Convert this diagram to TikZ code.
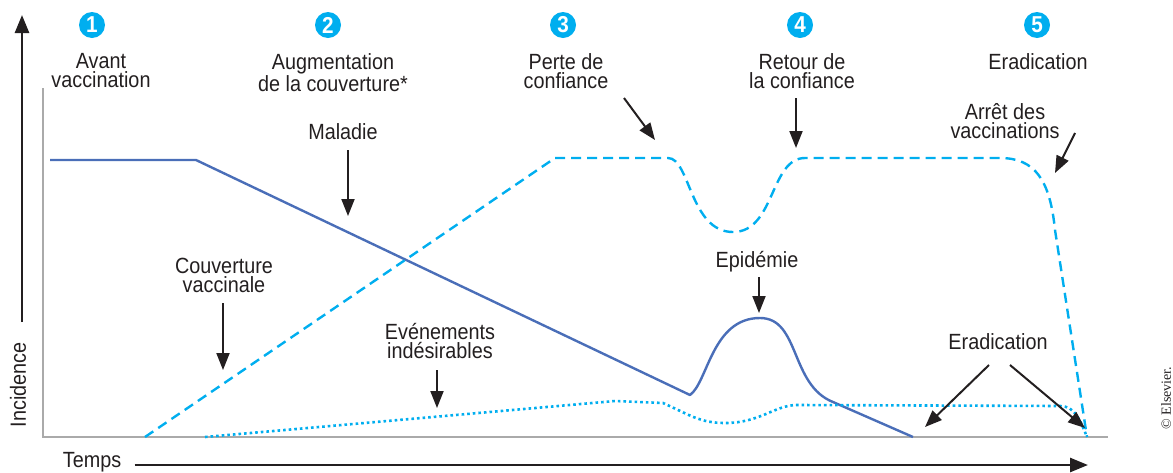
\documentclass[tikz,border=0pt]{standalone}
\usepackage{fontspec}
\setmainfont{Liberation Sans}[FakeStretch=0.9]
\newfontfamily\elsfont{Liberation Serif}
\usepackage{tikz}
\usetikzlibrary{arrows.meta}
\usetikzlibrary{positioning}
\definecolor{encre}{RGB}{35,31,32}
\definecolor{maladieblue}{RGB}{74,110,184}
\definecolor{vaccyan}{RGB}{0,174,239}
\definecolor{cadregrey}{RGB}{170,170,170}
\tikzset{
  lbl/.style={inner sep=0pt,align=center,text=encre,font=\fontsize{11}{9.6}\selectfont},
  num/.style={circle,fill=vaccyan,minimum size=13pt,inner sep=0pt,text=white,font=\fontsize{11.5}{11.5}\selectfont\bfseries},
  fleche/.style={draw=encre,line width=1pt,-{Triangle[length=8.5pt,width=6.5pt]}},
  axe/.style={draw=encre,line width=1.3pt,-{Triangle[length=9pt,width=7pt]}},
  maladie/.style={draw=maladieblue,line width=1.2pt,line join=round},
  couverture/.style={draw=vaccyan,line width=1.2pt,dash pattern=on 5pt off 3pt},
  effets/.style={draw=vaccyan,line width=1.3pt,dash pattern=on 1.3pt off 1.5pt},
  cadre/.style={draw=cadregrey,line width=0.6pt}
}

\begin{document}
\begin{tikzpicture}[line cap=butt,x=0.5pt,y=-0.5pt]
\useasboundingbox (0,0) rectangle (1173,472);
% axes
\draw[cadre] (43,88) -- (43,437) -- (1108,437);
\coordinate (inc-bas) at (22,322);
\coordinate (inc-haut) at (22,15);
\draw[axe] (inc-bas) -- (inc-haut);
\node[lbl,rotate=90] (incidence) at (18,385) {Incidence};
\node[lbl] (temps) at (92,462) {Temps};
\coordinate (temps-fin) at (1088,465);
\draw[axe] (temps.east |- temps-fin) ++(6.5pt,0) -- (temps-fin);
\node[rotate=90,inner sep=0pt,text=encre,font=\elsfont\fontsize{7}{8}\selectfont] (copyr) at (1166,398) {© Elsevier.};
% phases
\foreach \n/\x in {1/92,2/328,3/563,4/800,5/1037}
  \node[num] (n\n) at (\x,25) {\n};
\node[lbl,anchor=north] (avant) at (101,53) {Avant\\vaccination};
\node[lbl,anchor=north] (augment) at (333,53) {Augmentation\\de la couverture*};
\node[lbl,anchor=north] (perte) at (566,53) {Perte de\\confiance};
\node[lbl,anchor=north] (retour) at (802,53) {Retour de\\la confiance};
\node[lbl,anchor=north] (eradic5) at (1038,53) {Eradication};
% courbes
\draw[maladie] (50,160) -- (196,160) -- (690,395)
  .. controls (708,382) and (712,318) .. (760,318)
  .. controls (800,318) and (790,385) .. (833,402) -- (913,437);
\draw[couverture] (145,437) -- (555,158) -- (668,158)
  .. controls (690,158) and (690,232) .. (733,232)
  .. controls (775,232) and (770,158) .. (805,158) -- (1000,158)
  .. controls (1035,158) and (1050,180) .. (1055,230) -- (1087,437);
\draw[effets] (205,437) -- (615,401) -- (663,403)
  .. controls (690,415) and (700,423) .. (725,423)
  .. controls (760,423) and (775,405) .. (797,405) -- (1060,406)
  .. controls (1075,406) and (1080,420) .. (1087,437);
% etiquettes
\node[lbl,anchor=north] (maladie-lbl) at (343,123) {Maladie};
\node[lbl,anchor=north] (arret) at (1005,103) {Arrêt des\\vaccinations};
\node[lbl,anchor=north] (couv-lbl) at (224,258) {Couverture\\vaccinale};
\node[lbl,anchor=north] (evenem) at (440,323) {Evénements\\indésirables};
\node[lbl,anchor=north] (epidemie) at (757,251) {Epidémie};
\node[lbl,anchor=north] (eradic) at (998,333) {Eradication};
% fleches
\coordinate (maladie-a) at (348,150);  \coordinate (maladie-b) at (348,216);
\coordinate (perte-a) at (624,98);     \coordinate (perte-b) at (655,140);
\coordinate (retour-a) at (796,98);    \coordinate (retour-b) at (796,148);
\coordinate (arret-a) at (1075,133);   \coordinate (arret-b) at (1055,173);
\coordinate (couv-a) at (223,303);     \coordinate (couv-b) at (223,370);
\coordinate (evenem-a) at (437,370);   \coordinate (evenem-b) at (437,408);
\coordinate (epid-a) at (759,277);     \coordinate (epid-b) at (759,313);
\coordinate (erad-a) at (989,365);     \coordinate (erad-b) at (925,427);
\coordinate (erad-c) at (1010,365);    \coordinate (erad-d) at (1085,428);
\foreach \a/\b in {maladie-a/maladie-b,perte-a/perte-b,retour-a/retour-b,arret-a/arret-b,couv-a/couv-b,evenem-a/evenem-b,epid-a/epid-b,erad-a/erad-b,erad-c/erad-d}
  \draw[fleche] (\a) -- (\b);
\end{tikzpicture}
\end{document}
